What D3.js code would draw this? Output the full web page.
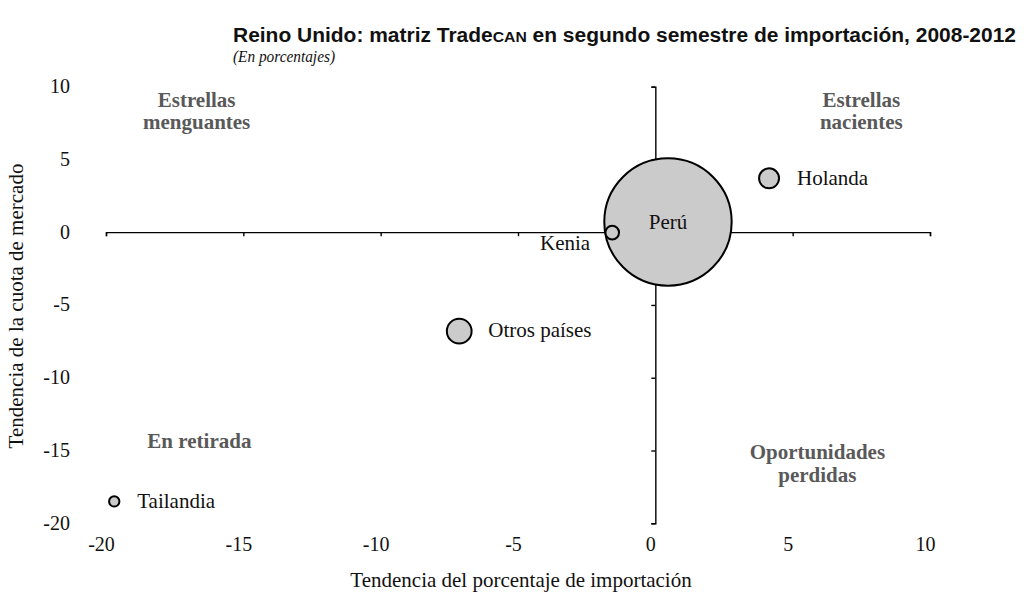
<!DOCTYPE html>
<html lang="es">
<head>
<meta charset="utf-8">
<script src="https://cdn.jsdelivr.net/npm/d3@7"></script>
<style>
  html, body { margin: 0; padding: 0; background: #ffffff; }
  svg { display: block; }
  .serif { font-family: "Liberation Serif", "Times New Roman", serif; }
</style>
</head>
<body>
<svg id="chart" width="1026" height="594"></svg>
<script>
// Matriz TradeCAN: tendencia de importación (x) frente a tendencia de la cuota (y)
const paises = ["Perú", "Otros países", "Holanda", "Kenia", "Tailandia"];
const tendenciaImportacion = [0.46, -7.14, 4.14, -1.57, -19.7];
const tendenciaCuota = [0.7, -6.8, 3.7, -0.03, -18.5];
const participacion = [61, 2.3, 1.5, 0.7, 0.4];

const xTicks = [-20, -15, -10, -5, 0, 5, 10];
const yTicks = [-20, -15, -10, -5, 0, 5, 10];

const cuadrantes = [
  { lineas: ["Estrellas", "menguantes"], x: -16.7, y: 8.6 },
  { lineas: ["Estrellas", "nacientes"], x: 7.5, y: 8.6 },
  { lineas: ["En retirada"], x: -16.6, y: -14.8 },
  { lineas: ["Oportunidades", "perdidas"], x: 5.9, y: -15.6 }
];

const titulo = "Reino Unido: matriz Trade";
const tituloCan = "CAN";
const tituloFin = " en segundo semestre de importación, 2008-2012";
const subtitulo = "(En porcentajes)";
const ejeX = "Tendencia del porcentaje de importación";
const ejeY = "Tendencia de la cuota de mercado";

const svg = d3.select("#chart");

const x = d3.scaleLinear().domain([-20, 10]).range([106, 930]);
const y = d3.scaleLinear().domain([-20, 10]).range([523.3, 86.6]);
const r = d3.scaleSqrt().domain([0, 61]).range([0, 63.7]);

// Title (condensed to the header width)
const t = svg.append("text")
  .attr("x", 233).attr("y", 42)
  .style("font-family", "'Liberation Sans', Arial, sans-serif")
  .style("font-weight", "bold")
  .style("font-size", "20px")
  .attr("fill", "#111")
  .attr("textLength", 783)
  .attr("lengthAdjust", "spacingAndGlyphs");
t.append("tspan").text(titulo);
t.append("tspan").style("font-size", "15px").text(tituloCan);
t.append("tspan").text(tituloFin);

svg.append("text")
  .attr("class", "serif")
  .attr("x", 233).attr("y", 62)
  .style("font-style", "italic")
  .style("font-size", "17.5px")
  .attr("fill", "#111")
  .attr("textLength", 102)
  .attr("lengthAdjust", "spacingAndGlyphs")
  .text(subtitulo);

// Axes crossing at the origin
const gx = svg.append("g")
  .attr("transform", `translate(0,${y(0)})`)
  .call(d3.axisBottom(x).tickValues(xTicks).tickSize(4).tickSizeOuter(4).tickFormat(""));
const gy = svg.append("g")
  .attr("transform", `translate(${x(0)},0)`)
  .call(d3.axisLeft(y).tickValues(yTicks).tickSize(4).tickSizeOuter(4).tickFormat(""));
[gx, gy].forEach(g => {
  g.select(".domain").attr("stroke", "#000").attr("stroke-width", 1.4);
  g.selectAll(".tick line").attr("stroke", "#000").attr("stroke-width", 1.4);
});

// Tick labels along the plot edges
svg.append("g").selectAll("text")
  .data(xTicks).join("text")
  .attr("class", "serif")
  .attr("x", d => x(d) - 4.5)
  .attr("y", 551)
  .attr("text-anchor", "middle")
  .style("font-size", "20px")
  .attr("fill", "#111")
  .text(d => d);

svg.append("g").selectAll("text")
  .data(yTicks).join("text")
  .attr("class", "serif")
  .attr("x", 70)
  .attr("y", d => y(d))
  .attr("dy", "0.32em")
  .attr("text-anchor", "end")
  .style("font-size", "20px")
  .attr("fill", "#111")
  .text(d => d);

// Axis titles
svg.append("text")
  .attr("class", "serif")
  .attr("x", 521).attr("y", 587)
  .attr("text-anchor", "middle")
  .style("font-size", "21px")
  .attr("fill", "#111")
  .text(ejeX);

svg.append("text")
  .attr("class", "serif")
  .attr("transform", "translate(23,306) rotate(-90)")
  .attr("text-anchor", "middle")
  .style("font-size", "21px")
  .attr("fill", "#111")
  .text(ejeY);

// Quadrant labels
cuadrantes.forEach(q => {
  const txt = svg.append("text")
    .attr("class", "serif")
    .attr("text-anchor", "middle")
    .style("font-size", "21px")
    .style("font-weight", "bold")
    .attr("fill", "#595959");
  q.lineas.forEach((l, i) => {
    txt.append("tspan")
      .attr("x", x(q.x))
      .attr("y", y(q.y) + i * 22.5)
      .text(l);
  });
});

// Bubbles, largest first so small ones stay visible
const puntos = paises.map((p, i) => ({
  pais: p,
  xi: tendenciaImportacion[i],
  yc: tendenciaCuota[i],
  s: participacion[i]
})).sort((a, b) => b.s - a.s);

svg.append("g").selectAll("circle")
  .data(puntos).join("circle")
  .attr("cx", d => x(d.xi))
  .attr("cy", d => y(d.yc))
  .attr("r", d => r(d.s))
  .attr("fill", "#cbcbcb")
  .attr("stroke", "#000")
  .attr("stroke-width", 2);

// Point labels
const colocacion = {
  "Perú": { anchor: "middle", dx: 0, dy: 7 },
  "Kenia": { anchor: "end", dx: -22, dy: 17 },
  "Holanda": { anchor: "start", dx: 28, dy: 7 },
  "Otros países": { anchor: "start", dx: 29, dy: 6 },
  "Tailandia": { anchor: "start", dx: 23, dy: 7 }
};

svg.append("g").selectAll("text")
  .data(puntos).join("text")
  .attr("class", "serif")
  .attr("x", d => x(d.xi) + colocacion[d.pais].dx)
  .attr("y", d => y(d.yc) + colocacion[d.pais].dy)
  .attr("text-anchor", d => colocacion[d.pais].anchor)
  .style("font-size", "21px")
  .attr("fill", "#111")
  .text(d => d.pais);
</script>
</body>
</html>
